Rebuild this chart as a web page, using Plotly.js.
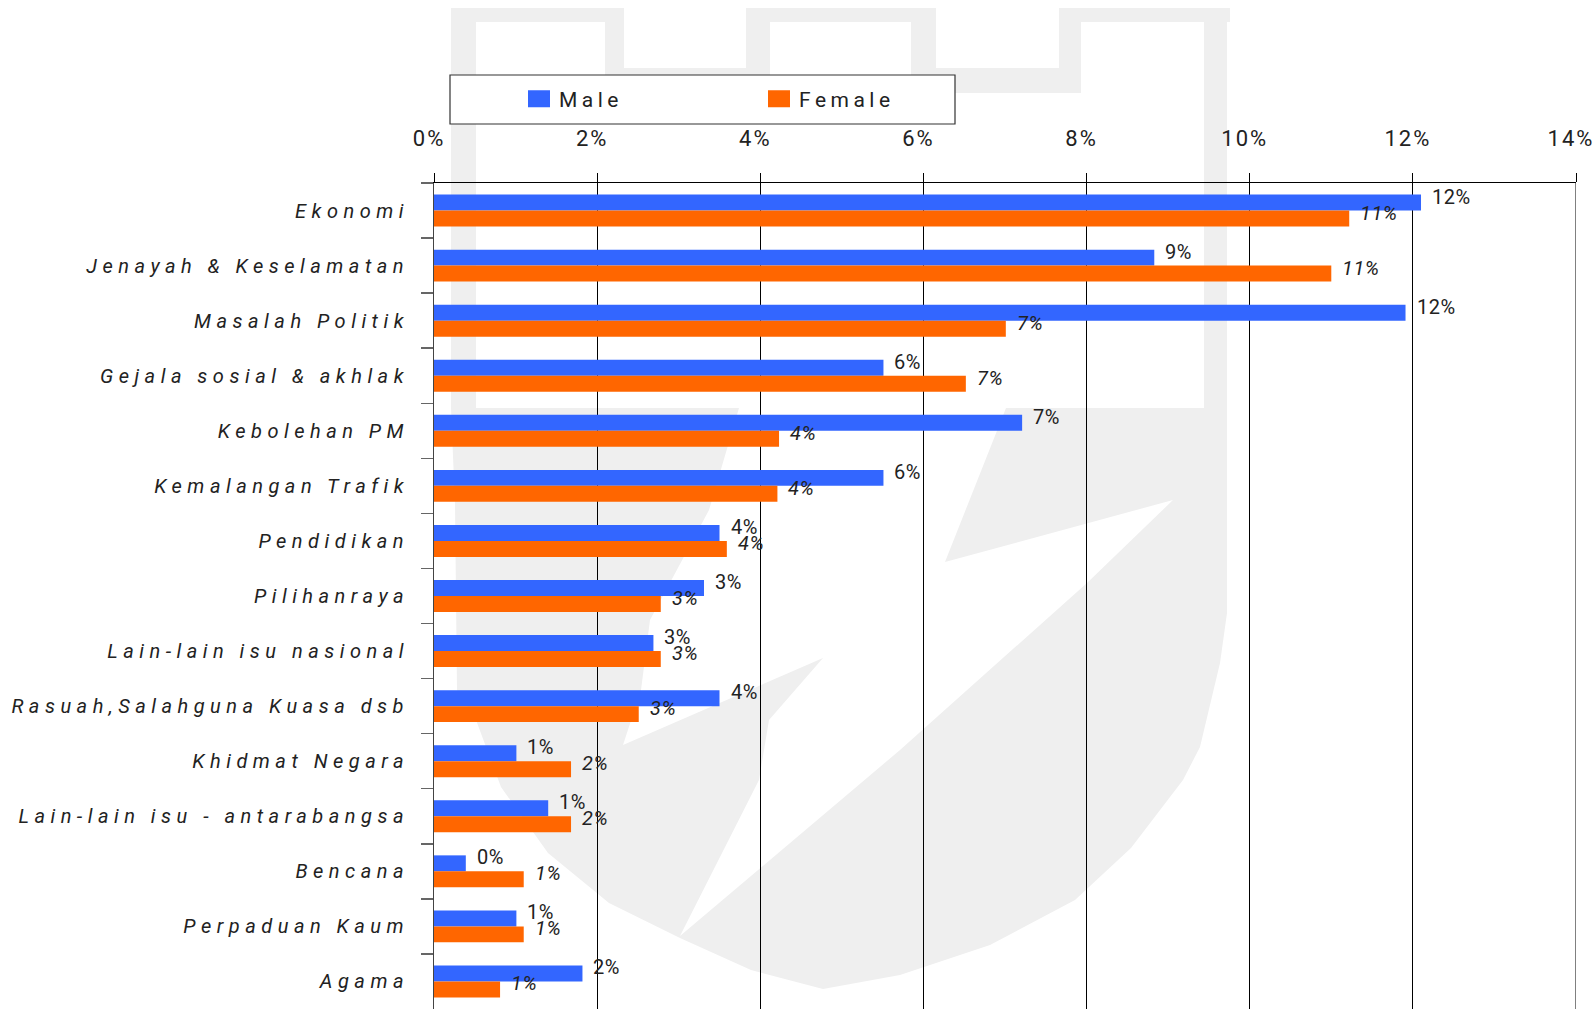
<!DOCTYPE html>
<html><head><meta charset="utf-8">
<script src="https://cdn.plot.ly/plotly-3.0.1.min.js"></script>
<style>
html,body{margin:0;padding:0;background:#fff;}
#chart{width:1594px;height:1009px;}
.ytick text{letter-spacing:5.5px;}
.xtick text{letter-spacing:2px;}
.annotation-text{letter-spacing:0.5px;}
.legendtext{letter-spacing:4.5px;}
</style></head><body><div id="chart"></div>
<script>
// ---- data ----
const categories = ["Ekonomi", "Jenayah & Keselamatan", "Masalah Politik", "Gejala sosial & akhlak",
  "Kebolehan PM", "Kemalangan Trafik", "Pendidikan", "Pilihanraya", "Lain-lain isu nasional",
  "Rasuah,Salahguna Kuasa dsb", "Khidmat Negara", "Lain-lain isu - antarabangsa", "Bencana",
  "Perpaduan Kaum", "Agama"];
const male   = [12.10, 8.83, 11.91, 5.51, 7.21, 5.51, 3.50, 3.31, 2.69, 3.50, 1.01, 1.40, 0.39, 1.01, 1.82];
const female = [11.22, 11.00, 7.01, 6.52, 4.23, 4.21, 3.59, 2.78, 2.78, 2.51, 1.68, 1.68, 1.10, 1.10, 0.81];
const seriesNames = ["Male", "Female"];
const tickValues = [0, 2, 4, 6, 8, 10, 12, 14];
const tickLabels = ["0%", "2%", "4%", "6%", "8%", "10%", "12%", "14%"];

// ---- style ----
const FONT = "Roboto, 'Liberation Sans', sans-serif";
const BLUE = "#3366FF", ORANGE = "#FF6600", WM = "#efefef";
const W = 1594, H = 1009, L = 434, R = 1576, T = 183, B = 1009;
const px = x => (x - L) / (R - L);
const py = y => (B - y) / (B - T);
const pathOf = pts => "M" + pts.map(p => px(p[0]).toFixed(5) + "," + py(p[1]).toFixed(5)).join(" L") + " Z";

// watermark (decorative logo behind the plot), pixel outlines
const wmRects = [
  [451, 8, 476, 408], [451, 8, 624, 22], [605, 8, 624, 93], [605, 68, 770, 93],
  [746, 8, 770, 93], [746, 8, 936, 22], [911, 8, 936, 93], [911, 68, 1081, 93],
  [1059, 8, 1081, 93], [1059, 8, 1230, 22], [1204, 8, 1227, 408]
];
const bowl = [[451,408],[1227,408],[1227,613],[1220,663],[1200,747],[1183,780],[1131,848],[1075,900],
  [990,945],[900,975],[823,989],[751,970],[680,938],[609,903],[548,853],[501,787],[476,720],
  [457,690],[455,504]];
const leaf = [[739,408],[1006,408],[945,562],[1173,500],[1087,583],[900,750],[680,936],[759,780],
  [769,720],[823,658],[623,745],[641,690],[650,620],[709,510]];

const shapes = [];
wmRects.forEach(r => shapes.push({type:"rect", xref:"paper", yref:"paper", layer:"below",
  x0:px(r[0]), x1:px(r[2]), y0:py(r[3]), y1:py(r[1]), fillcolor:WM, line:{width:0}}));
shapes.push({type:"path", xref:"paper", yref:"paper", layer:"below", path:pathOf(bowl), fillcolor:WM, line:{width:0}});
shapes.push({type:"path", xref:"paper", yref:"paper", layer:"below", path:pathOf(leaf), fillcolor:"#ffffff", line:{width:0}});
// right-edge gridline at the last tick (Plotly clips gridlines lying on the plot edge)
shapes.push({type:"line", xref:"x", yref:"paper", layer:"below", x0:tickValues[tickValues.length-1],
  x1:tickValues[tickValues.length-1], y0:0, y1:1, line:{color:"#000", width:1}});
// legend frame
shapes.push({type:"rect", xref:"paper", yref:"paper", layer:"below",
  x0:px(450), x1:px(955), y0:py(124), y1:py(75), fillcolor:"#ffffff", line:{color:"#333", width:1.2}});

const annotations = [];
categories.forEach((c, i) => {
  annotations.push({x: male[i], y: c, text: Math.round(male[i]) + "%", showarrow:false,
    xanchor:"left", yanchor:"middle", xshift:9, yshift:14, font:{family:FONT, size:20, color:"#222"}});
  annotations.push({x: female[i], y: c, text: Math.round(female[i]) + "%", showarrow:false,
    xanchor:"left", yanchor:"middle", xshift:9, yshift:-2, font:{family:FONT, size:20, color:"#222", style:"italic"}});
});

const traces = [
  {type:"bar", orientation:"h", name:seriesNames[0], y:categories, x:male, marker:{color:BLUE, line:{width:0}}, hoverinfo:"x+y"},
  {type:"bar", orientation:"h", name:seriesNames[1], y:categories, x:female, marker:{color:ORANGE, line:{width:0}}, hoverinfo:"x+y"}
];

const layout = {
  width:W, height:H,
  margin:{l:L, r:W-R, t:T, b:0, pad:0},
  paper_bgcolor:"#ffffff", plot_bgcolor:"rgba(0,0,0,0)",
  barmode:"group", bargap:0.42, bargroupgap:0,
  font:{family:FONT, color:"#222"},
  xaxis:{side:"top", range:[0,14], tickvals:tickValues, ticktext:tickLabels, showgrid:true,
    gridcolor:"#000", gridwidth:1, zeroline:false, showline:true, linecolor:"#000", linewidth:1.5,
    ticks:"outside", ticklen:9, tickcolor:"#000", tickwidth:1, ticklabelstandoff:18, ticklabelshift:-5,
    ticklabeloverflow:"allow",
    tickfont:{family:FONT, size:22, color:"#222"}, fixedrange:true},
  yaxis:{type:"category", range:[14.5,-0.5], showgrid:false, zeroline:false, showline:true,
    linecolor:"#444", linewidth:1, ticks:"outside", tickson:"boundaries", ticklen:12, tickcolor:"#666",
    tickwidth:1.5, ticklabelstandoff:20, tickfont:{family:FONT, size:20, color:"#222", style:"italic"}, fixedrange:true},
  showlegend:true,
  legend:{orientation:"h", x:px(519), xanchor:"left", y:py(99), yanchor:"middle", bgcolor:"rgba(0,0,0,0)",
    borderwidth:0, font:{family:FONT, size:21, color:"#222"}, entrywidth:195, entrywidthmode:"pixels", traceorder:"normal"},
  shapes:shapes, annotations:annotations
};

Plotly.newPlot("chart", traces, layout, {displayModeBar:false, staticPlot:true}).then(() => {
  document.querySelectorAll(".legend .legendpoints path").forEach(p => p.setAttribute("d", "M11,8.5H-11V-8.5H11Z"));
});
</script></body></html>
